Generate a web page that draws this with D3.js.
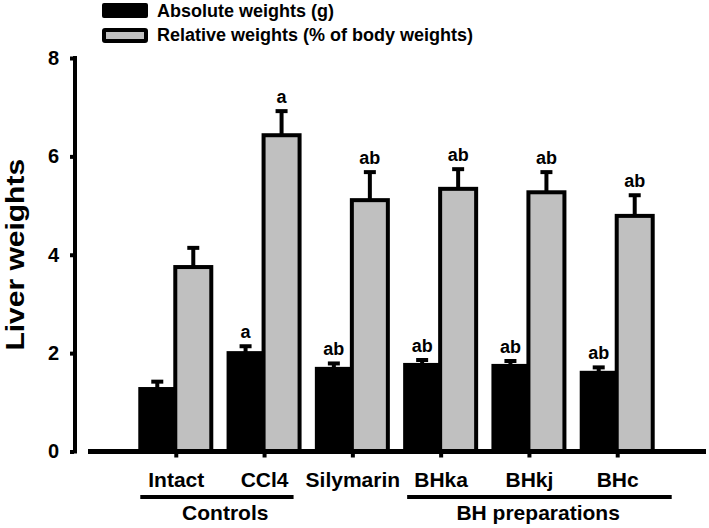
<!DOCTYPE html>
<html>
<head>
<meta charset="utf-8">
<script src="https://cdn.jsdelivr.net/npm/d3@7"></script>
<style>
  html, body { margin: 0; padding: 0; background: #fff; }
  svg { display: block; font-family: "Liberation Sans", Arial, Helvetica, sans-serif; font-weight: bold; }
</style>
</head>
<body>
<svg id="chart" width="709" height="528"></svg>
<script>
// ---- data ----
const categories = ["Intact", "CCl4", "Silymarin", "BHka", "BHkj", "BHc"];
const absoluteWeights = [1.27, 2.00, 1.68, 1.76, 1.74, 1.60];
const absoluteErrors  = [0.15, 0.14, 0.11, 0.10, 0.10, 0.11];
const relativeWeights = [3.75, 6.43, 5.11, 5.34, 5.27, 4.79];
const relativeErrors  = [0.39, 0.49, 0.57, 0.40, 0.41, 0.42];
const absoluteMarks = ["", "a", "ab", "ab", "ab", "ab"];
const relativeMarks = ["", "a", "ab", "ab", "ab", "ab"];
const yTicks = [0, 2, 4, 6, 8];
const seriesNames = ["Absolute weights (g)", "Relative weights (% of body weights)"];
const groupNames = ["Controls", "BH preparations"];
const groupMembers = [["Intact", "CCl4"], ["BHka", "BHc"]];
const yTitle = "Liver weights";

const svg = d3.select("#chart");

const x = d3.scalePoint().domain(categories).range([88, 706]).padding(1);
const y = d3.scaleLinear().domain([0, 8]).range([451.5, 58]);

// y axis
const yAxis = d3.axisLeft(y).tickValues(yTicks).tickSize(5).tickSizeOuter(0).tickPadding(11);
const gy = svg.append("g").attr("transform", "translate(75,0)").call(yAxis);
gy.select(".domain").attr("stroke", "#000").attr("stroke-width", 4)
  .attr("d", `M0,${y(8) - 2}V${y(0) + 2}`);
gy.selectAll(".tick line").attr("stroke", "#000").attr("stroke-width", 4).attr("x1", -1);
gy.selectAll(".tick text").attr("font-size", 20).attr("font-weight", "bold")
  .attr("font-family", "Liberation Sans, Arial, sans-serif").attr("fill", "#000");

// y title
svg.append("text")
  .attr("transform", `translate(24,${(y(8) + y(0)) / 2}) rotate(-90) scale(1,0.86)`)
  .attr("text-anchor", "middle")
  .attr("font-size", 30)
  .attr("fill", "#000")
  .text(yTitle);

const blackW = 33, grayW = 36;

// bars
const bars = svg.append("g");
categories.forEach((c, i) => {
  const cx = x(c);
  // black (absolute)
  bars.append("rect")
    .attr("x", cx - 36).attr("width", blackW)
    .attr("y", y(absoluteWeights[i])).attr("height", y(0) - y(absoluteWeights[i]))
    .attr("fill", "#000").attr("stroke", "#000").attr("stroke-width", 4);
  // gray (relative)
  bars.append("rect")
    .attr("x", cx - 1).attr("width", grayW)
    .attr("y", y(relativeWeights[i])).attr("height", y(0) - y(relativeWeights[i]))
    .attr("fill", "#c0c0c0").attr("stroke", "#000").attr("stroke-width", 4);
});

// error bars + letters
function errBar(ex, v, e, mark) {
  const g = svg.append("g").attr("stroke", "#000").attr("stroke-width", 4);
  g.append("line").attr("x1", ex).attr("x2", ex).attr("y1", y(v)).attr("y2", y(v + e));
  g.append("line").attr("x1", ex - 6).attr("x2", ex + 6).attr("y1", y(v + e)).attr("y2", y(v + e));
  if (mark) {
    svg.append("text").attr("x", ex).attr("y", y(v + e) - 8)
      .attr("text-anchor", "middle").attr("font-size", 18).attr("fill", "#000").text(mark);
  }
}
categories.forEach((c, i) => {
  const cx = x(c);
  errBar(cx - 19, absoluteWeights[i], absoluteErrors[i], absoluteMarks[i]);
  errBar(cx + 17, relativeWeights[i], relativeErrors[i], relativeMarks[i]);
});

// x baseline and ticks
svg.append("line").attr("x1", 88).attr("x2", 706).attr("y1", y(0)).attr("y2", y(0))
  .attr("stroke", "#000").attr("stroke-width", 5);
categories.forEach(c => {
  svg.append("line").attr("x1", x(c)).attr("x2", x(c)).attr("y1", y(0)).attr("y2", y(0) + 6)
    .attr("stroke", "#000").attr("stroke-width", 4);
});

// category labels
svg.append("g").selectAll("text").data(categories).join("text")
  .attr("x", d => x(d)).attr("y", 487)
  .attr("text-anchor", "middle").attr("font-size", 21).attr("fill", "#000")
  .text(d => d);

// group brackets
const groupLine = [[-36, 29], [-34, 54]];
const groupText = [49, 97];
groupNames.forEach((g, i) => {
  const a = x(groupMembers[i][0]), b = x(groupMembers[i][1]);
  svg.append("line").attr("x1", a + groupLine[i][0]).attr("x2", b + groupLine[i][1])
    .attr("y1", 497).attr("y2", 497).attr("stroke", "#000").attr("stroke-width", 4);
  svg.append("text").attr("x", a + groupText[i]).attr("y", 520)
    .attr("text-anchor", "middle").attr("font-size", 21).attr("fill", "#000").text(g);
});

// legend
const legend = svg.append("g");
legend.append("rect").attr("x", 102).attr("y", 3).attr("width", 46).attr("height", 15).attr("rx", 2)
  .attr("fill", "#000");
legend.append("rect").attr("x", 104).attr("y", 30).attr("width", 42).attr("height", 11).attr("rx", 1)
  .attr("fill", "#c0c0c0").attr("stroke", "#000").attr("stroke-width", 4);
legend.append("text").attr("x", 157).attr("y", 17).attr("font-size", 18).attr("fill", "#000").text(seriesNames[0]);
legend.append("text").attr("x", 157).attr("y", 41).attr("font-size", 18).attr("fill", "#000").text(seriesNames[1]);
</script>
</body>
</html>
